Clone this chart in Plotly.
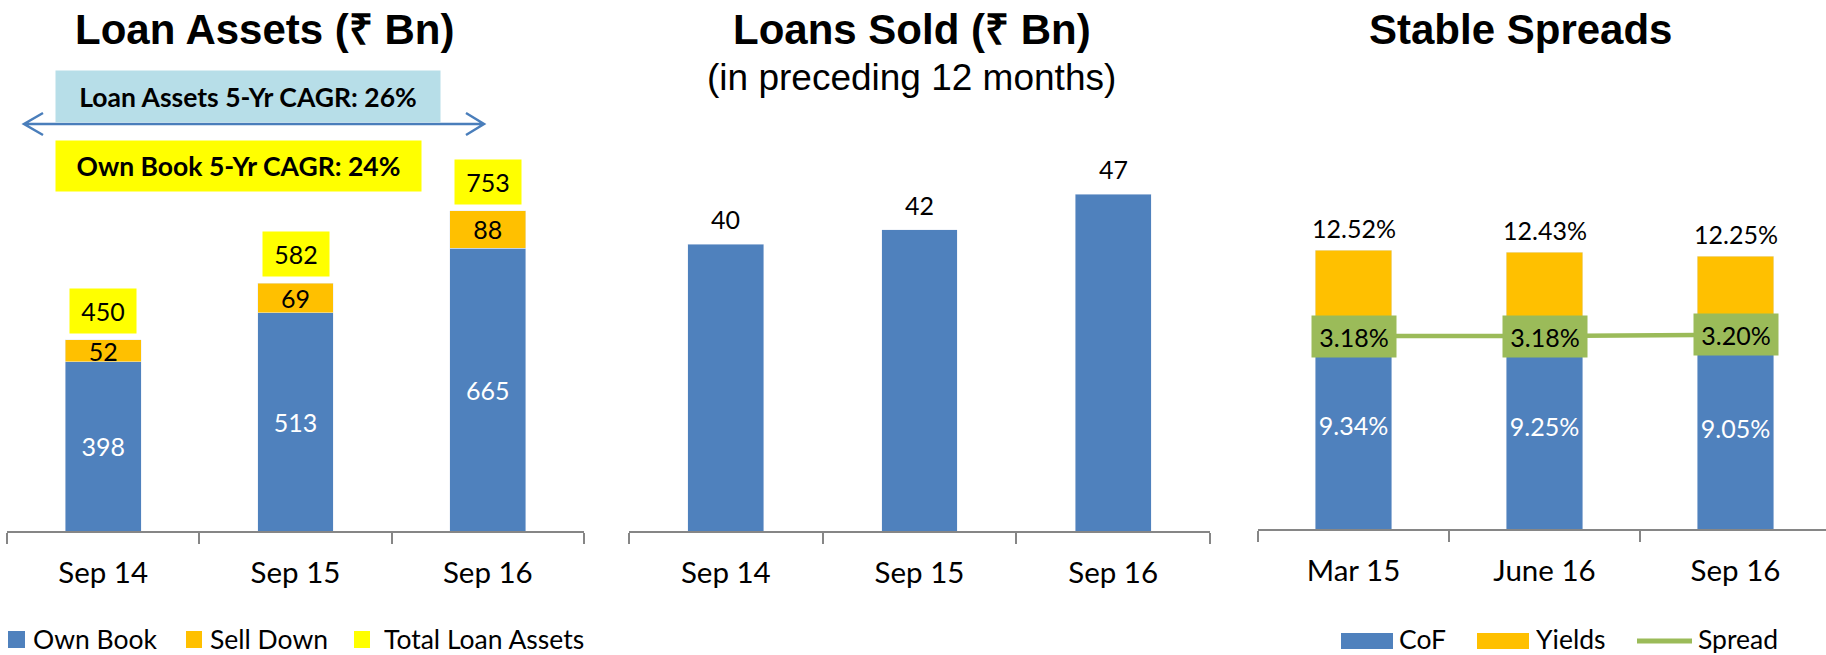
import plotly.graph_objects as go

W, H = 1826, 655

# ---------------- data ----------------
asset_periods = ["Sep 14", "Sep 15", "Sep 16"]
own_book = [398, 513, 665]
sell_down = [52, 69, 88]
total_loan_assets = [450, 582, 753]

sold_periods = ["Sep 14", "Sep 15", "Sep 16"]
loans_sold = [40, 42, 47]

spread_periods = ["Mar 15", "June 16", "Sep 16"]
cof = [9.34, 9.25, 9.05]
yields = [12.52, 12.43, 12.25]
spread = [3.18, 3.18, 3.20]

title_assets = "Loan Assets (₹ Bn)"
title_sold = "Loans Sold (₹ Bn)"
subtitle_sold = "(in preceding 12 months)"
title_spreads = "Stable Spreads"
loan_cagr_text = "Loan Assets 5-Yr CAGR: 26%"
own_cagr_text = "Own Book 5-Yr CAGR: 24%"

# ---------------- styles ----------------
BLUE = "#4F81BD"
ORANGE = "#FFC000"
YELLOW = "#FFFF00"
GREEN = "#9BBB59"
LIGHTBLUE = "#B7DEE8"
AXIS = "#868686"
ARROW = "#4A7EBB"
LATO = "Lato, Carlito, Calibri, sans-serif"
ARIAL = "Liberation Sans, Arial, Helvetica, sans-serif"
LABEL_SIZE = 25
TICK_SIZE = 29.5
LEGEND_SIZE = 26.5


def px(x):
    return x / W


def py(y):
    return 1 - y / H


fig = go.Figure()

# ---- panel 1: loan assets ----
fig.add_trace(go.Bar(
    x=asset_periods, y=own_book, name="Own Book", marker_color=BLUE,
    width=0.395, text=[str(v) for v in own_book], textposition="inside",
    insidetextanchor="middle", constraintext="none", textangle=0,
    textfont=dict(family=LATO, size=LABEL_SIZE, color="white"),
    xaxis="x", yaxis="y", showlegend=False, hoverinfo="skip"))
fig.add_trace(go.Bar(
    x=asset_periods, y=sell_down, name="Sell Down", marker_color=ORANGE,
    width=0.395, text=[str(v) for v in sell_down], textposition="inside",
    insidetextanchor="middle", constraintext="none", textangle=0,
    textfont=dict(family=LATO, size=LABEL_SIZE, color="black"),
    xaxis="x", yaxis="y", showlegend=False, hoverinfo="skip"))

# ---- panel 2: loans sold ----
fig.add_trace(go.Bar(
    x=sold_periods, y=loans_sold, name="Loans Sold", marker_color=BLUE,
    width=0.392, xaxis="x2", yaxis="y2", showlegend=False, hoverinfo="skip"))

# ---- panel 3: spreads ----
fig.add_trace(go.Bar(
    x=spread_periods, y=cof, name="CoF", marker_color=BLUE, width=0.398,
    text=[f"{v:.2f}%" for v in cof], textposition="inside",
    insidetextanchor="middle", constraintext="none", textangle=0,
    textfont=dict(family=LATO, size=LABEL_SIZE, color="white"),
    xaxis="x3", yaxis="y3", showlegend=False, hoverinfo="skip"))
fig.add_trace(go.Bar(
    x=spread_periods, y=[yv - cv for yv, cv in zip(yields, cof)], name="Yields",
    marker_color=ORANGE, width=0.398,
    xaxis="x3", yaxis="y3", showlegend=False, hoverinfo="skip"))
fig.add_trace(go.Scatter(
    x=spread_periods, y=spread, name="Spread", mode="lines",
    line=dict(color=GREEN, width=4.5),
    xaxis="x3", yaxis="y4", showlegend=False, hoverinfo="skip"))

annotations = []
# totals (yellow boxes)
for p, t in zip(asset_periods, total_loan_assets):
    annotations.append(dict(
        x=p, y=t, xref="x", yref="y", xanchor="center", yanchor="bottom", yshift=6,
        text=str(t), showarrow=False, bgcolor=YELLOW, width=66, height=44,
        borderpad=0, font=dict(family=LATO, size=LABEL_SIZE, color="black")))
# loans sold labels
for p, v in zip(sold_periods, loans_sold):
    annotations.append(dict(
        x=p, y=v, xref="x2", yref="y2", xanchor="center", yanchor="middle", yshift=25,
        text=str(v), showarrow=False,
        font=dict(family=LATO, size=LABEL_SIZE, color="black")))
# yields labels
for p, v in zip(spread_periods, yields):
    annotations.append(dict(
        x=p, y=v, xref="x3", yref="y3", xanchor="center", yanchor="middle", yshift=22,
        text=f"{v:.2f}%", showarrow=False,
        font=dict(family=LATO, size=LABEL_SIZE, color="black")))
# spread labels (green boxes)
for p, v in zip(spread_periods, spread):
    annotations.append(dict(
        x=p, y=v, xref="x3", yref="y4", xanchor="center", yanchor="middle",
        text=f"{v:.2f}%", showarrow=False, bgcolor=GREEN, width=84, height=41,
        borderpad=0, font=dict(family=LATO, size=LABEL_SIZE, color="black")))


def paper_text(x, y, text, size, family, xanchor="center", bg=None, w=None, h=None):
    d = dict(x=px(x), y=py(y), xref="paper", yref="paper", xanchor=xanchor,
             yanchor="middle", text=text, showarrow=False,
             font=dict(family=family, size=size, color="black"))
    if bg is not None:
        d.update(bgcolor=bg, width=w, height=h, borderpad=0)
    elif h is not None:
        d.update(height=h, borderpad=0)
    return d


# titles
annotations += [
    paper_text(264, 29, f"<b>{title_assets}</b>", 42, ARIAL),
    paper_text(912, 29, f"<b>{title_sold}</b>", 42, ARIAL),
    paper_text(911, 78, subtitle_sold, 37, ARIAL),
    paper_text(1520, 29, f"<b>{title_spreads}</b>", 42, ARIAL),
]

# CAGR boxes
annotations += [
    paper_text(248, 96.5, f"<b>{loan_cagr_text}</b>", 26.5, LATO, bg=LIGHTBLUE, w=384, h=51),
    paper_text(238.5, 166, f"<b>{own_cagr_text}</b>", 26.5, LATO, bg=YELLOW, w=365, h=50),
]

# manual legends
legend_items_1 = [("Own Book", BLUE, 8, 25, 32), ("Sell Down", ORANGE, 186, 202, 209),
                  ("Total Loan Assets", YELLOW, 354, 370, 383)]
legend_items_3 = [("CoF", BLUE, 1341, 1393, 1398), ("Yields", ORANGE, 1477, 1529, 1535)]
shapes = []
for name, col, x0, x1, xt in legend_items_1:
    shapes.append(dict(type="rect", xref="paper", yref="paper", x0=px(x0), x1=px(x1),
                       y0=py(648), y1=py(631), fillcolor=col, line=dict(width=0)))
    annotations.append(paper_text(xt, 639, name, LEGEND_SIZE, LATO, xanchor="left", h=28))
for name, col, x0, x1, xt in legend_items_3:
    shapes.append(dict(type="rect", xref="paper", yref="paper", x0=px(x0), x1=px(x1),
                       y0=py(649), y1=py(633), fillcolor=col, line=dict(width=0)))
    annotations.append(paper_text(xt, 638.5, name, LEGEND_SIZE, LATO, xanchor="left", h=28))
shapes.append(dict(type="line", xref="paper", yref="paper", x0=px(1637), x1=px(1692),
                   y0=py(641), y1=py(641), line=dict(color=GREEN, width=5)))
annotations.append(paper_text(1697, 638.5, "Spread", LEGEND_SIZE, LATO, xanchor="left", h=28))

# double-headed arrow
arrow_path = (f"M{px(24)},{py(124)} L{px(484)},{py(124)} "
              f"M{px(43)},{py(113)} L{px(24)},{py(124)} L{px(43)},{py(135)} "
              f"M{px(466)},{py(113)} L{px(484)},{py(124)} L{px(466)},{py(135)}")
shapes.append(dict(type="path", xref="paper", yref="paper", path=arrow_path,
                   line=dict(color=ARROW, width=2.5)))

xcommon = dict(type="category", showline=True, linecolor=AXIS, linewidth=2,
               ticks="outside", tickson="boundaries", ticklen=11, tickwidth=2,
               tickcolor=AXIS, showgrid=False, zeroline=False, ticklabelstandoff=15,
               tickfont=dict(family=LATO, size=TICK_SIZE, color="black"), fixedrange=True)
ycommon = dict(visible=False, showgrid=False, zeroline=False, fixedrange=True)

top = 100
base12 = 531   # bottom of plot area (axis line centred 1px below)
base3 = 529
k1 = 0.4255    # px per unit, loan assets
k2 = 7.17      # px per unit, loans sold
k3 = 22.28     # px per unit, spreads chart
spread_px = 193  # height of the 3.18% spread line above the plot bottom

fig.update_layout(
    width=W, height=H, margin=dict(l=0, r=0, t=0, b=0),
    paper_bgcolor="white", plot_bgcolor="white",
    barmode="stack", showlegend=False,
    xaxis=dict(xcommon, domain=[px(7), px(584)], range=[-0.5, 2.5], anchor="y"),
    yaxis=dict(ycommon, domain=[py(base12), py(top)], range=[0, (base12 - top) / k1], anchor="x"),
    xaxis2=dict(xcommon, domain=[px(629), px(1210)], range=[-0.5, 2.5], anchor="y2"),
    yaxis2=dict(ycommon, domain=[py(base12), py(top)], range=[0, (base12 - top) / k2], anchor="x2"),
    xaxis3=dict(xcommon, domain=[px(1258), 1.0], range=[-0.5, -0.5 + (W - 1258) / 191.0], anchor="y3"),
    yaxis3=dict(ycommon, domain=[py(base3), py(top)], range=[0, (base3 - top) / k3], anchor="x3"),
    yaxis4=dict(ycommon, overlaying="y3", range=[0, (base3 - top) * 3.18 / spread_px], anchor="x3"),
    annotations=annotations, shapes=shapes,
)

fig.write_html("out.html", config={"displayModeBar": False},
               post_script="document.body.style.margin='0';document.body.style.overflow='hidden';")
